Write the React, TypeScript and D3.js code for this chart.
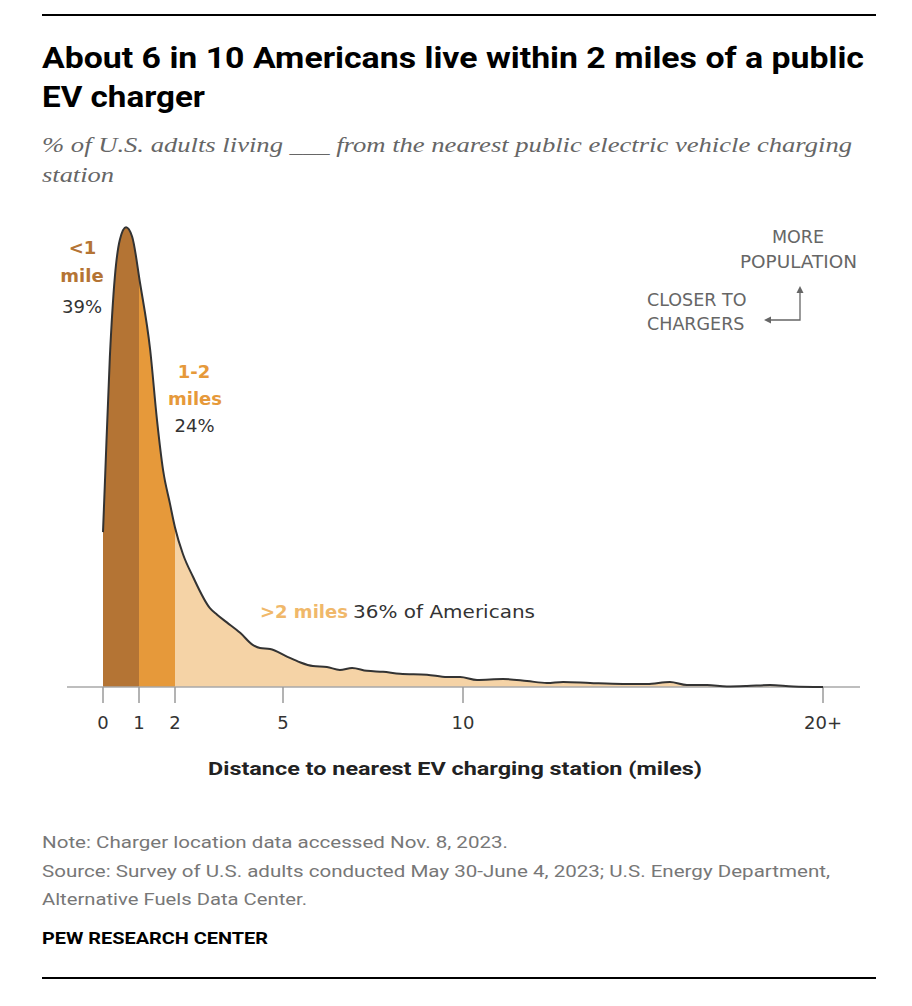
import React from "react";
import * as d3 from "d3";

const miles = [0, 0.056, 0.19, 0.33, 0.47, 0.64, 0.81, 1.03, 1.31, 1.5, 1.67, 1.86, 2.0, 2.22, 2.5, 2.97, 3.17, 3.44, 3.81, 4.17, 4.36, 4.64, 5.11, 5.47, 5.83, 6.22, 6.58, 6.92, 7.33, 7.78, 8.25, 9.0, 9.56, 9.92, 10.39, 11.11, 11.78, 12.33, 12.78, 13.53, 14.44, 15.11, 15.75, 16.22, 16.78, 17.33, 17.89, 18.53, 19.17, 20];
const density = [16.3, 21.8, 34.7, 43.2, 47.1, 48.4, 47.4, 42.5, 35.5, 28.1, 22.8, 19.3, 16.8, 14.0, 11.6, 8.3, 7.6, 6.8, 5.7, 4.4, 4.1, 4.0, 3.2, 2.6, 2.2, 2.1, 1.8, 2.0, 1.7, 1.6, 1.4, 1.3, 1.05, 1.05, 0.74, 0.84, 0.63, 0.42, 0.53, 0.42, 0.32, 0.32, 0.53, 0.21, 0.21, 0.05, 0.1, 0.21, 0.05, 0];

const tickValues = [0, 1, 2, 5, 10, 20];
const tickLabels = ["0", "1", "2", "5", "10", "20+"];

const bands = [
  { from: 0, to: 1, color: "#b47434" },
  { from: 1, to: 2, color: "#e6993a" },
  { from: 2, to: 20, color: "#f5d3a6" },
];

const SANS = "Roboto, 'Noto Sans', Arial, sans-serif";
const LABEL = "'DejaVu Sans', Verdana, sans-serif";
const SERIF = "'Liberation Serif', 'DejaVu Serif', serif";

export default function App() {
  const x = d3.scaleLinear().domain([0, 20]).range([103, 823]);
  const y = d3.scaleLinear().domain([0, 50]).range([687, 212]);
  const pts = miles.map((m, i) => [m, density[i]] as [number, number]);

  const area = d3
    .area<[number, number]>()
    .x((d) => x(d[0]))
    .y0(y(0))
    .y1((d) => y(d[1]))
    .curve(d3.curveMonotoneX);
  const line = d3
    .line<[number, number]>()
    .x((d) => x(d[0]))
    .y((d) => y(d[1]))
    .curve(d3.curveMonotoneX);

  const areaPath = area(pts) || "";
  const linePath = line(pts) || "";

  return (
    <svg
      width={912}
      height={1006}
      style={{ position: "absolute", left: 0, top: 0, background: "#fff" }}
    >
      <defs>
        {bands.map((b, i) => (
          <clipPath id={`band${i}`} key={i}>
            <rect x={x(b.from)} y={0} width={x(b.to) - x(b.from)} height={y(0)} />
          </clipPath>
        ))}
      </defs>
      {/* top rule */}
      <line x1={42} x2={876} y1={15} y2={15} stroke="#000" strokeWidth={2} />

      {/* title */}
      <text fontFamily={SANS} fontWeight={700} fontSize={29} fill="#000">
        <tspan x={42} y={68} textLength={822} lengthAdjust="spacingAndGlyphs">
          About 6 in 10 Americans live within 2 miles of a public
        </tspan>
        <tspan x={42} y={107} textLength={163} lengthAdjust="spacingAndGlyphs">
          EV charger
        </tspan>
      </text>
      <text fontFamily={SERIF} fontStyle="italic" fontSize={22} fill="#666">
        <tspan x={42} y={152} textLength={810} lengthAdjust="spacingAndGlyphs">
          % of U.S. adults living ___ from the nearest public electric vehicle charging
        </tspan>
        <tspan x={42} y={182} textLength={72} lengthAdjust="spacingAndGlyphs">
          station
        </tspan>
      </text>

      {/* areas */}
      {bands.map((b, i) => (
        <path key={i} d={areaPath} fill={b.color} clipPath={`url(#band${i})`} />
      ))}

      {/* axis */}
      <line x1={67} x2={860} y1={y(0)} y2={y(0)} stroke="#a8a8a8" strokeWidth={1.5} />
      {tickValues.map((t, i) => (
        <g key={t}>
          <line x1={x(t)} x2={x(t)} y1={y(0)} y2={703} stroke="#9a9a9a" strokeWidth={1.5} />
          <text
            x={x(t)}
            y={729}
            textAnchor="middle"
            fontFamily={LABEL}
            fontSize={18}
            fill="#333"
          >
            {tickLabels[i]}
          </text>
        </g>
      ))}

      <path d={linePath} fill="none" stroke="#333" strokeWidth={2} strokeLinejoin="round" />

      {/* band labels */}
      <g fontFamily={LABEL} fontSize={18} textAnchor="middle">
        <text x={82.5} y={254} fontWeight={700} fill="#b47434">&lt;1</text>
        <text x={82} y={282} fontWeight={700} fill="#b47434">mile</text>
        <text x={82} y={313} fill="#333">39%</text>
        <text x={194} y={378} fontWeight={700} fill="#e6993a">1-2</text>
        <text x={195} y={405} fontWeight={700} fill="#e6993a">miles</text>
        <text x={194.5} y={432} fill="#333">24%</text>
      </g>
      <text x={260} y={618} fontFamily={LABEL} fontSize={18} fontWeight={700} fill="#f0b86a">
        &gt;2 miles
      </text>
      <text
        x={353}
        y={618}
        fontFamily={LABEL}
        fontSize={18}
        fill="#333"
        textLength={182}
        lengthAdjust="spacingAndGlyphs"
      >
        36% of Americans
      </text>

      {/* direction annotation */}
      <g fontFamily={LABEL} fontSize={17.5} fill="#666">
        <text x={798} y={243} textAnchor="middle">MORE</text>
        <text x={798.5} y={268} textAnchor="middle" textLength={117} lengthAdjust="spacingAndGlyphs">
          POPULATION
        </text>
        <text x={647} y={306}>CLOSER TO</text>
        <text x={647} y={330}>CHARGERS</text>
      </g>
      <path d="M800,291 L800,320 L770,320" fill="none" stroke="#666" strokeWidth={1.3} />
      <path d="M800,286 L796.5,293 L803.5,293 Z" fill="#666" />
      <path d="M764,320 L771,316.5 L771,323.5 Z" fill="#666" />

      {/* axis title */}
      <text
        x={208}
        y={775}
        fontFamily={SANS}
        fontWeight={700}
        fontSize={19}
        fill="#222"
        textLength={494}
        lengthAdjust="spacingAndGlyphs"
      >
        Distance to nearest EV charging station (miles)
      </text>

      {/* footer */}
      <g fontFamily={SANS} fontSize={17} fill="#777">
        <text x={42} y={848} textLength={466} lengthAdjust="spacingAndGlyphs">
          Note: Charger location data accessed Nov. 8, 2023.
        </text>
        <text x={42} y={877} textLength={788} lengthAdjust="spacingAndGlyphs">
          Source: Survey of U.S. adults conducted May 30-June 4, 2023; U.S. Energy Department,
        </text>
        <text x={42} y={905} textLength={265} lengthAdjust="spacingAndGlyphs">
          Alternative Fuels Data Center.
        </text>
      </g>
      <text
        x={42}
        y={944}
        fontFamily={SANS}
        fontWeight={700}
        fontSize={17}
        fill="#000"
        textLength={226}
        lengthAdjust="spacingAndGlyphs"
      >
        PEW RESEARCH CENTER
      </text>
      <line x1={42} x2={876} y1={978} y2={978} stroke="#000" strokeWidth={2} />
    </svg>
  );
}
